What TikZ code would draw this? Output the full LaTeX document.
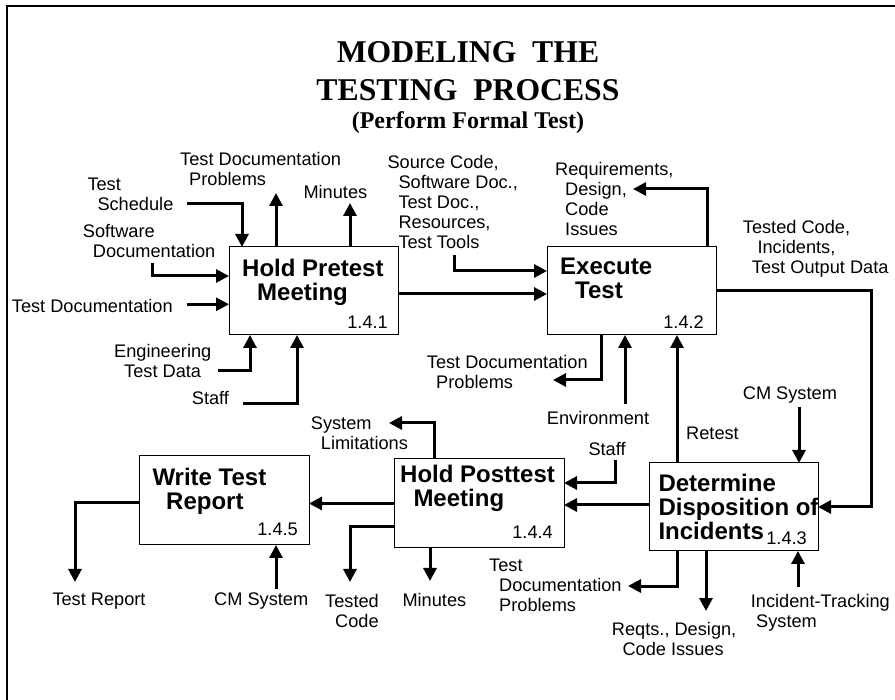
\documentclass[tikz,border=0pt]{standalone}
\usepackage{fontspec}
\setmainfont{Liberation Sans}
\newfontfamily\titlefont{Liberation Serif}
\usetikzlibrary{arrows.meta}
\newcommand{\indt}[1]{\hspace*{#1pt}}

\begin{document}
\begin{tikzpicture}[x=1pt,y=-1pt,>={Triangle[length=13pt,width=13pt]}]
        \tikzstyle{process}=[draw,line width=1pt,rectangle,minimum width=169pt,minimum height=88pt,inner sep=0pt,outer sep=0pt]
        \tikzstyle{proctitle}=[anchor=north west,inner sep=0pt,align=left,font=\fontsize{24}{24}\selectfont\bfseries]
        \tikzstyle{procnum}=[anchor=base east,inner sep=0pt,font=\fontsize{18.2}{20}\selectfont]
        \tikzstyle{flowlabel}=[anchor=north west,inner sep=0pt,align=left,font=\fontsize{18.2}{20}\selectfont]
        \tikzstyle{hv}=[to path={-| (\tikztotarget)}]
        \tikzstyle{vh}=[to path={|- (\tikztotarget)}]

        \useasboundingbox (0,0) rectangle (895,700);
        \draw[line width=2.5pt] (7,700) -- (7,6) -- (895,6);

        \node[font=\fontsize{31.7}{38.3}\selectfont\titlefont\bfseries,align=center] (title) at (468,70.9) {MODELING~ THE\\TESTING~ PROCESS};
        \node[font=\fontsize{24}{24}\selectfont\titlefont\bfseries] (subtitle) at (468,123) {(Perform Formal Test)};

        \node[process] (b1) at (313.5,291) {};
        \node[process] (b2) at (631.5,291) {};
        \node[process] (b3) at (733.5,507) {};
        \node[process,minimum width=170pt,minimum height=89pt] (b4) at (479,503.5) {};
        \node[process,minimum width=170pt,minimum height=89pt] (b5) at (224,500.5) {};

        \node[proctitle] (t1) at ([shift={(13pt,-11.7pt)}]b1.north west)  {Hold Pretest\\\indt{15}Meeting};
        \node[procnum]   (n1) at ([shift={(-10pt,6pt)}]b1.south east)     {1.4.1};
        \node[proctitle] (t2) at ([shift={(13pt,-10.8pt)}]b2.north west)  {Execute\\\indt{15}Test};
        \node[procnum]   (n2) at ([shift={(-12pt,6pt)}]b2.south east)     {1.4.2};
        \node[proctitle] (t3) at ([shift={(9.3pt,-11.4pt)}]b3.north west) {Determine\\Disposition of\\Incidents};
        \node[procnum]   (n3) at ([shift={(-11pt,6.3pt)}]b3.south east)   {1.4.3};
        \node[proctitle] (t4) at ([shift={(6pt,-6.4pt)}]b4.north west)    {Hold Posttest\\\indt{13.3}Meeting};
        \node[procnum]   (n4) at ([shift={(-11pt,9pt)}]b4.south east)     {1.4.4};
        \node[proctitle] (t5) at ([shift={(13.3pt,-11.8pt)}]b5.north west) {Write Test\\\indt{13.7}Report};
        \node[procnum]   (n5) at ([shift={(-11pt,9.3pt)}]b5.south east)   {1.4.5};

        % 1.4.1
        \node[flowlabel] (lsched)  at (87.3,178)   {Test\\\indt{10}Schedule};
        \node[flowlabel] (ltdp1)   at (180,152.3)  {Test Documentation\\\indt{9}Problems};
        \node[flowlabel] (lmin1)   at (303.3,184.7) {Minutes};
        \node[flowlabel] (lswdoc)  at (82.7,223.7) {Software\\\indt{10}Documentation};
        \node[flowlabel] (ltdoc)   at (11.7,298.7) {Test Documentation};
        \node[flowlabel] (letd)    at (114,343.7)  {Engineering\\\indt{10}Test Data};
        \node[flowlabel] (lstaff1) at (191.7,391.3) {Staff};
        % 1.4.2
        \node[flowlabel] (lsrc)    at (387.3,154.7) {Source Code,\\\indt{11}Software Doc.,\\\indt{11}Test Doc.,\\\indt{11}Resources,\\\indt{11}Test Tools};
        \node[flowlabel] (lreq)    at (555,162.3)  {Requirements,\\\indt{10}Design,\\\indt{10}Code\\\indt{10}Issues};
        \node[flowlabel] (ltout)   at (742.7,220.3) {Tested Code,\\\indt{14.6}Incidents,\\\indt{9}Test Output Data};
        \node[flowlabel] (ltdp2)   at (426.7,354.7) {Test Documentation\\\indt{9.3}Problems};
        \node[flowlabel] (lenv)    at (546.7,410.7) {Environment};
        \node[flowlabel] (lretest) at (686,426.3)  {Retest};
        % 1.4.3
        \node[flowlabel] (lcm3)    at (742.7,386.3) {CM System};
        \node[flowlabel] (ltdp3)   at (489,559)    {Test\\\indt{10}Documentation\\\indt{10}Problems};
        \node[flowlabel] (lreqts)  at (611.7,622.3) {Reqts., Design,\\\indt{10.6}Code Issues};
        \node[flowlabel] (lits)    at (750.7,593.7) {Incident-Tracking\\\indt{5.3}System};
        % 1.4.4
        \node[flowlabel] (lstaff4) at (588.3,442)  {Staff};
        \node[flowlabel] (lsyslim) at (310.7,417)  {System\\\indt{10}Limitations};
        \node[flowlabel] (ltcode)  at (325,593.7)  {Tested\\\indt{10}Code};
        \node[flowlabel] (lmin4)   at (402.3,593)  {Minutes};
        % 1.4.5
        \node[flowlabel] (ltrep)   at (52.3,593)   {Test Report};
        \node[flowlabel] (lcm5)    at (214,593)    {CM System};

        \coordinate (sched)  at (187,204);
        \coordinate (tdp1)   at (276,193);
        \coordinate (min1)   at (350,203);
        \coordinate (swdoc)  at (152,263);
        \coordinate (tdoc)   at (187,304.3);
        \coordinate (etd)    at (218,371);
        \coordinate (staff1) at (243,404);
        \coordinate (src)    at (454,255);
        \coordinate (req)    at (633,189);
        \coordinate (tout)   at (871,400);
        \coordinate (tdp2)   at (553,380);
        \coordinate (env)    at (625,404);
        \coordinate (retest) at ([xshift=28pt]b3.north west);
        \coordinate (cm3)    at (799,407);
        \coordinate (d34)    at ([yshift=2pt]b3.west);
        \coordinate (tdp3)   at (628,586);
        \coordinate (reqts)  at (706,611);
        \coordinate (its)    at (798,587);
        \coordinate (staff4) at (615,460);
        \coordinate (syslim) at (389,423);
        \coordinate (tcode)  at (350,582);
        \coordinate (min4)   at (430,581);
        \coordinate (trep)   at (75,582);
        \coordinate (cm5)    at (276,589);

        \path[->,line width=3pt]
                  (sched)  edge [hv] ([xshift=13pt]b1.north west)% 1.4.1
                  (b1.north -| tdp1) edge (tdp1)
                  (b1.north -| min1) edge (min1)
                  (swdoc)  edge [vh] ([yshift=-29pt]b1.north west)
                  (tdoc)   edge (b1.west |- tdoc)
                  (etd)    edge [hv] ([xshift=21pt]b1.south west)
                  (staff1) edge [hv] ([xshift=68pt]b1.south west)
                  ([yshift=-3pt]b1.east) edge ([yshift=-3pt]b2.west)
                  (src)    edge [vh] ([yshift=-24pt]b2.north west)% 1.4.2
                  ([xshift=-9pt]b2.north east) edge [vh] (req)
                  (b2.east) edge [to path={-| (tout) |- (\tikztotarget)}] (b3.east)
                  ([xshift=54pt]b2.south west) edge [vh] (tdp2)
                  (env)    edge (b2.south -| env)
                  (retest) edge (b2.south -| retest)
                  (cm3)    edge (b3.north -| cm3)% 1.4.3
                  (d34)    edge (b4.east |- d34)
                  ([xshift=28pt]b3.south west) edge [vh] (tdp3)
                  (b3.south -| reqts) edge (reqts)
                  (its)    edge (b3.south -| its)
                  (staff4) edge [vh] ([yshift=-24pt]b4.north east)% 1.4.4
                  ([xshift=40pt]b4.north west) edge [vh] (syslim)
                  (b4.west) edge (b5.east |- b4.west)
                  ([yshift=21pt]b4.south west) edge [hv] (tcode)
                  (b4.south -| min4) edge (min4)
                  ([yshift=-2pt]b5.west) edge [hv] (trep)% 1.4.5
                  (cm5)    edge (b5.south -| cm5);
\end{tikzpicture}
\end{document}
